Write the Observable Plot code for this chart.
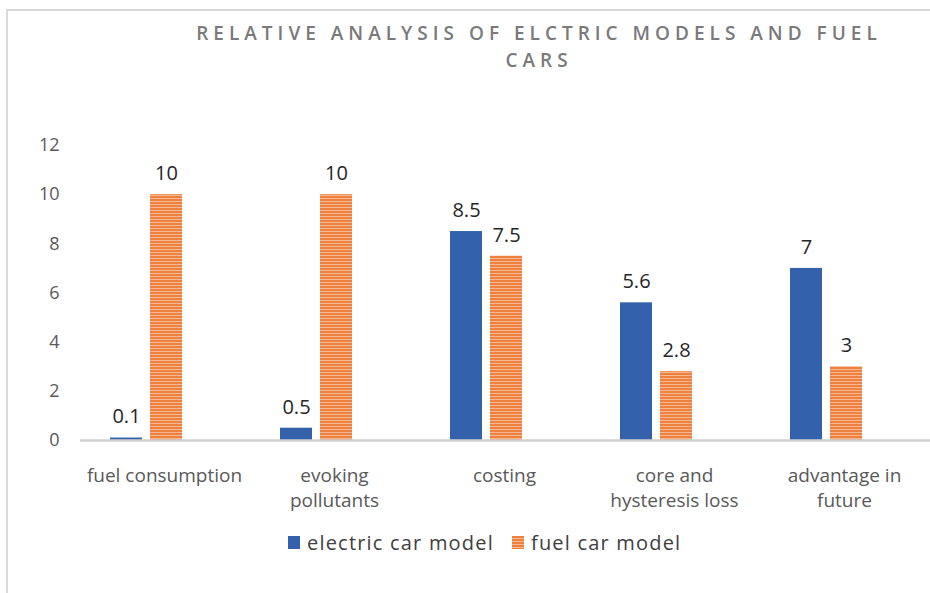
<!DOCTYPE html>
<html><head><meta charset="utf-8">
<script src="https://cdn.jsdelivr.net/npm/d3@7"></script>
<script src="https://cdn.jsdelivr.net/npm/@observablehq/plot@0.6"></script>
<style>
body{margin:0;background:#fff;}
#wrap{position:relative;width:930px;height:593px;overflow:hidden;background:#fff;font-family:"Open Sans",sans-serif;}
#frame{position:absolute;left:6px;top:9px;width:1000px;height:1000px;border-left:2px solid #d9d9d9;border-top:2px solid #d9d9d9;}
#title{position:absolute;left:140px;width:798px;top:20px;text-align:center;color:#7a7a7a;font-size:19px;font-weight:600;letter-spacing:5px;line-height:27px;}
#chart{position:absolute;left:0;top:100px;}
#legend{position:absolute;left:288px;top:529px;display:flex;align-items:center;font-size:20px;letter-spacing:1.2px;color:#404040;white-space:nowrap;}
.sw{width:12px;height:13px;display:inline-block;margin-right:7px;}
.item{display:flex;align-items:center;margin-right:18px;}
</style></head>
<body>
<div id="wrap">
  <div id="frame"></div>
  <div id="title">RELATIVE ANALYSIS OF ELCTRIC MODELS AND FUEL<br>CARS</div>
  <div id="chart"></div>
  <div id="legend"></div>
</div>
<script>
const categories = ["fuel consumption", "evoking pollutants", "costing", "core and hysteresis loss", "advantage in future"];
const categoryLabels = ["fuel consumption", "evoking\npollutants", "costing", "core and\nhysteresis loss", "advantage in\nfuture"];
const series = ["electric car model", "fuel car model"];
const electric = [0.1, 0.5, 8.5, 5.6, 7];
const fuel = [10, 10, 7.5, 2.8, 3];
const yTicks = [0, 2, 4, 6, 8, 10, 12];

const blue = "#3461ab";
const rows = categories.flatMap((c, i) => [
  {category: c, series: series[0], value: electric[i]},
  {category: c, series: series[1], value: fuel[i]}
]);

const svg = Plot.plot({
  width: 930, height: 420,
  marginLeft: 60, marginRight: 18, marginTop: 45, marginBottom: 80,
  style: {fontFamily: "'Open Sans', sans-serif", color: "#595959", background: "transparent"},
  fx: {domain: categories, padding: 0, axis: null},
  x: {domain: series, paddingInner: 0.2, paddingOuter: 1.225, axis: null},
  y: {domain: [0, 12], axis: null},
  marks: [
    Plot.axisY({ticks: yTicks, tickSize: 0, tickPadding: 2, fontSize: 18, label: null}),
    Plot.barY(rows.filter(d => d.series === series[0]), {fx: "category", x: "series", y: "value", fill: blue}),
    Plot.barY(rows.filter(d => d.series === series[1]), {fx: "category", x: "series", y: "value", fill: "url(#stripes)"}),
    Plot.ruleY([0], {stroke: "#d0d0d0", strokeWidth: 2.5, dx: 19}),
    Plot.text(rows, {fx: "category", x: "series", y: "value", text: d => String(d.value), dy: -21, fontSize: 20, fill: "#262626"}),
    Plot.axisFx({anchor: "bottom", tickSize: 0, tickPadding: 24, dx: 18, fontSize: 19, lineHeight: 1.32, label: null,
      tickFormat: d => categoryLabels[categories.indexOf(d)]})
  ]
});

const defs = d3.select(svg).insert("defs", ":first-child");
const pat = defs.append("pattern").attr("id", "stripes").attr("patternUnits", "userSpaceOnUse")
  .attr("width", 8).attr("height", 3);
pat.append("rect").attr("width", 8).attr("height", 3).attr("fill", "#ee8040");
pat.append("rect").attr("y", 2).attr("width", 8).attr("height", 1).attr("fill", "#f6b890");

document.getElementById("chart").appendChild(svg);

const legend = document.getElementById("legend");
series.forEach((s, i) => {
  const item = document.createElement("span");
  item.className = "item";
  const sw = document.createElement("span");
  sw.className = "sw";
  sw.style.background = i === 0 ? blue : "repeating-linear-gradient(to bottom, #ee8040 0 2px, #f6b890 2px 3px)";
  item.appendChild(sw);
  item.appendChild(document.createTextNode(s));
  legend.appendChild(item);
});
</script>
</body></html>
